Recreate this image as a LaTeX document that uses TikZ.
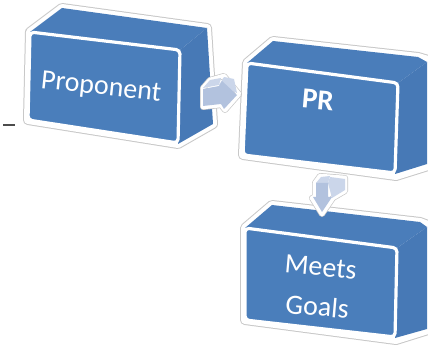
\documentclass[tikz,border=0pt]{standalone}
\usepackage{fontspec}
\setmainfont{Carlito}
\definecolor{boxblue}{HTML}{4A7EBB}
\definecolor{boxtop}{HTML}{4A7DBA}
\definecolor{boxside}{HTML}{4779B6}
\definecolor{arrfront}{HTML}{B2C2DE}
\definecolor{arrside}{HTML}{CBD6EA}
\definecolor{outl}{HTML}{C8C8C8}
\tikzset{
  silo/.style={draw=outl, line width=10pt, line join=round, fill=white},
  silw/.style={draw=white, line width=8pt, line join=round},
  topface/.style={fill=boxtop},
  sideface/.style={fill=boxside},
  frontface/.style={fill=boxblue, draw=white, line width=3.2pt, rounded corners=4pt},
  arro/.style={draw=outl, line width=6pt, line join=round, fill=white},
  arrw/.style={draw=white, line width=4.6pt, line join=round},
  lbl/.style={text=white, font=\fontsize{28}{40}\selectfont, align=center},
}
\begin{document}
\begin{tikzpicture}[x=1pt,y=-1pt]
\useasboundingbox (0,0) rectangle (428,347);
% stray dash
\coordinate (d1) at (3,125);
\coordinate (d2) at (15,125);
\draw[line width=2.6pt, black!70] (d1) -- (d2);

% ---- Proponent box
\path[silo] (28,120) -- (30,32) -- (62,8) -- (207,28) -- (213,124) -- (178,144) -- cycle;
\path[silw] (28,120) -- (30,32) -- (62,8) -- (207,28) -- (213,124) -- (178,144) -- cycle;
\fill[topface] (30,32) -- (62,8) -- (207,28) -- (180,50) -- cycle;
\fill[sideface] (180,50) -- (207,28) -- (213,124) -- (178,144) -- cycle;
\path[frontface] (30,32) -- (180,50) -- (178,143) -- (28,120) -- cycle;
\node[lbl, rotate=-6] (prop) at (101,88) {Proponent};

% ---- PR box
\path[silo] (243,155) -- (247,63) -- (273,41) -- (418,57) -- (428,60) -- (428,166) -- (396,176) -- cycle;
\path[silw] (243,155) -- (247,63) -- (273,41) -- (418,57) -- (428,60) -- (428,166) -- (396,176) -- cycle;
\fill[topface] (247,63) -- (273,41) -- (418,57) -- (427,62) -- (398,83) -- cycle;
\fill[sideface] (398,83) -- (427,62) -- (427,164) -- (395,174) -- cycle;
\path[frontface] (247,63) -- (398,83) -- (395,173) -- (243,155) -- cycle;
\node[lbl, font=\fontsize{29}{36}\selectfont\bfseries, rotate=-5] (pr) at (318,100) {PR};

% ---- Meets Goals box
\path[silo] (245,320) -- (245,228) -- (272,205) -- (420,222) -- (428,225) -- (428,330) -- (396,340) -- cycle;
\path[silw] (245,320) -- (245,228) -- (272,205) -- (420,222) -- (428,225) -- (428,330) -- (396,340) -- cycle;
\fill[topface] (245,228) -- (272,205) -- (420,222) -- (427,227) -- (397,248) -- cycle;
\fill[sideface] (397,248) -- (427,227) -- (427,329) -- (395,338) -- cycle;
\path[frontface] (245,228) -- (397,248) -- (395,337) -- (245,320) -- cycle;
\node[lbl, rotate=-5] (mg) at (319,287) {Meets\\Goals};

% ---- arrow Proponent -> PR
\path[arro] (203,88) -- (210,80) -- (224,76) -- (239,94) -- (225,110) -- (221,105) -- (203,107) -- cycle;
\path[arrw] (203,88) -- (210,80) -- (224,76) -- (239,94) -- (225,110) -- (221,105) -- (203,107) -- cycle;
\fill[arrside] (203,88) -- (210,80) -- (221,78) -- (219,85) -- cycle;
\fill[arrside] (219,85) -- (224,77) -- (234,79) -- (237,93) -- cycle;
\fill[arrfront] (203,89) -- (219,86) -- (222,81) -- (237,95) -- (224,109) -- (221,104) -- (203,106) -- cycle;

% ---- arrow PR -> Meets Goals
\path[arro] (315,183) -- (320,176) -- (345,178) -- (345,191) -- (333,198) -- (322,214) -- (312,198) -- (315,197) -- cycle;
\path[arrw] (315,183) -- (320,176) -- (345,178) -- (345,191) -- (333,198) -- (322,214) -- (312,198) -- (315,197) -- cycle;
\fill[arrside] (316,183) -- (321,177) -- (330,176) -- (328,183) -- cycle;
\fill[arrside] (328,183) -- (330,177) -- (345,179) -- (345,190) -- (332,198) -- cycle;
\fill[arrfront] (316,183) -- (328,183) -- (328,197) -- (332,197) -- (322,212) -- (313,197) -- (316,197) -- cycle;
\end{tikzpicture}
\end{document}
